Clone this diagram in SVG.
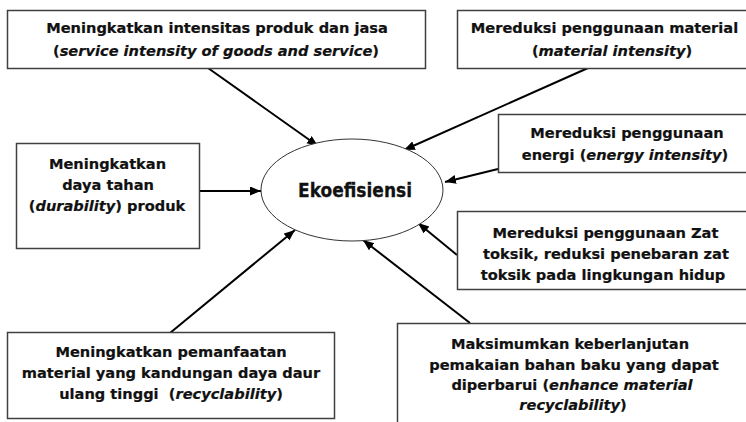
<svg xmlns="http://www.w3.org/2000/svg" width="746" height="422" viewBox="0 0 746 422">
<defs>
<style>
.box{fill:#fff;stroke:#404040;stroke-width:1.5}
.t{font-family:"DejaVu Sans",Verdana,sans-serif;font-weight:bold;font-size:14.6px;fill:#111;stroke:#111;stroke-width:0.2;text-anchor:middle}
.i{font-style:italic}
.c{stroke:#000;stroke-width:2;fill:none;marker-end:url(#ah)}
</style>
<marker id="ah" markerUnits="userSpaceOnUse" markerWidth="12" markerHeight="10" refX="11" refY="4.5" orient="auto">
<path d="M0,0 L11,4.5 L0,9 z" fill="#000"/>
</marker>
</defs>
<rect width="746" height="422" fill="#fff"/>
<g id="connectors">
<line class="c" x1="208" y1="68" x2="318" y2="146"/>
<line class="c" x1="588" y1="68" x2="404" y2="150"/>
<line class="c" x1="498" y1="169" x2="445" y2="182"/>
<line class="c" x1="199" y1="191" x2="261" y2="191"/>
<line class="c" x1="457" y1="255" x2="418" y2="223"/>
<line class="c" x1="470" y1="323" x2="363" y2="240"/>
<line class="c" x1="170" y1="333" x2="295" y2="230"/>
</g>
<g id="ekoefisiensi">
<ellipse cx="352" cy="190" rx="91" ry="51" fill="#fff" stroke="#333" stroke-width="1"/>
<text x="355" y="197" style="font-family:'DejaVu Sans',Verdana,sans-serif;font-weight:bold;font-size:20px;fill:#111;stroke:#111;stroke-width:0.3;text-anchor:middle" textLength="114" lengthAdjust="spacingAndGlyphs">Ekoefisiensi</text>
</g>
<g id="n1">
<rect class="box" x="7.5" y="10.5" width="418" height="58"/>
<text class="t" x="217" y="33">Meningkatkan intensitas produk dan jasa</text>
<text class="t" x="216" y="56">(<tspan class="i">service intensity of goods and service</tspan>)</text>
</g>
<g id="n2">
<rect class="box" x="457.5" y="10.5" width="300" height="58"/>
<text class="t" x="604.5" y="33">Mereduksi penggunaan material</text>
<text class="t" x="612" y="56">(<tspan class="i">material intensity</tspan>)</text>
</g>
<g id="n3">
<rect class="box" x="498.5" y="114.5" width="260" height="58"/>
<text class="t" x="627" y="138">Mereduksi penggunaan</text>
<text class="t" x="625" y="160">energi (<tspan class="i">energy intensity</tspan>)</text>
</g>
<g id="n4">
<rect class="box" x="16.5" y="143.5" width="183" height="105"/>
<text class="t" x="107.5" y="169">Meningkatkan</text>
<text class="t" x="108" y="190">daya tahan</text>
<text class="t" x="107" y="211">(<tspan class="i">durability</tspan>) produk</text>
</g>
<g id="n5">
<rect class="box" x="457.5" y="211.5" width="300" height="78"/>
<text class="t" x="605.5" y="238">Mereduksi penggunaan Zat</text>
<text class="t" x="606" y="259">toksik, reduksi penebaran zat</text>
<text class="t" x="603" y="280">toksik pada lingkungan hidup</text>
</g>
<g id="n6">
<rect class="box" x="7.5" y="332.5" width="327" height="86"/>
<text class="t" x="171" y="357">Meningkatkan pemanfaatan</text>
<text class="t" x="171" y="378">material yang kandungan daya daur</text>
<text class="t" x="171" y="399" xml:space="preserve">ulang tinggi  (<tspan class="i">recyclability</tspan>)</text>
</g>
<g id="n7">
<rect class="box" x="397.5" y="323.5" width="360" height="110"/>
<text class="t" x="570" y="349">Maksimumkan keberlanjutan</text>
<text class="t" x="574" y="370">pemakaian bahan baku yang dapat</text>
<text class="t" x="572" y="390">diperbarui (<tspan class="i">enhance material</tspan></text>
<text class="t" x="573" y="410"><tspan class="i">recyclability</tspan>)</text>
</g>
</svg>
